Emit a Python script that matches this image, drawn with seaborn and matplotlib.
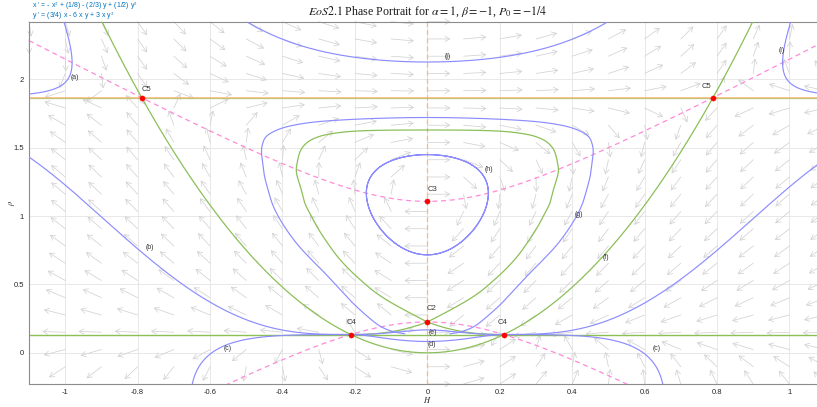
import math
import numpy as np
import pandas as pd
import matplotlib
matplotlib.use("Agg")
import matplotlib.pyplot as plt
import seaborn as sns

# ------------------------------------------------------------------ data
# x' = c0*x^2 + c1 + c2*y + c3*y^2 ;  y' = x*(d0 + d1*y + d2*y^2)
x_coefs = [-1.0, 1/8, -2/3, 1/2]
y_coefs = [3/4, -6.0, 3.0]

H_lim = [-1.1, 1.1]
rho_lim = [-0.228, 2.422]
x_ticks = [-1, -0.8, -0.6, -0.4, -0.2, 0, 0.2, 0.4, 0.6, 0.8, 1]
y_ticks = [0, 0.5, 1, 1.5, 2]

# seed points of the blue trajectories
blue_seed_H = [-0.981, 0.981, 0.0, -0.906, 0.812, -0.649, 0.650, 0.0, 0.0, 0.0]
blue_seed_rho = [2.12, 2.12, 2.127, 1.009, 0.777, -0.227, -0.227, 0.083, 0.168, 1.45]
# extra green trajectory (lower arc between the C4 nodes)
green_seed_H = [0.0]
green_seed_rho = [0.0]

# curves (left halves, mirrored about H = 0)
green_loop_H = [0.0, -0.1312, -0.2141, -0.2693, -0.3025, -0.3301, -0.3494, -0.3591,
                -0.3613, -0.3494, -0.3384, -0.3218, -0.3025, -0.2776, -0.2472, -0.2141,
                -0.1782, -0.1450, -0.1119, -0.0760, -0.0373, 0.0]
green_loop_rho = [1.6298, 1.6277, 1.6189, 1.6006, 1.5786, 1.5420, 1.4836, 1.3957,
                  1.3153, 1.2056, 1.0958, 1.0080, 0.9129, 0.8105, 0.7008, 0.6057,
                  0.5179, 0.4448, 0.3862, 0.3314, 0.2765, 0.2253]
blue_outer_H = [0.0, -0.1036, -0.2141, -0.3108, -0.3798, -0.4213, -0.4461, -0.4558,
                -0.4580, -0.4558, -0.4503, -0.4398, -0.4268, -0.4075, -0.3826,
                -0.3550, -0.3218, -0.2859, -0.2472, -0.2086, -0.1699, -0.1312,
                -0.0953, -0.0622]
blue_outer_rho = [1.7213, 1.7176, 1.7067, 1.6884, 1.6591, 1.6225, 1.5786, 1.5201,
                  1.4689, 1.4104, 1.3006, 1.1909, 1.0812, 0.9788, 0.8764,
                  0.7813, 0.6862, 0.5911, 0.4814, 0.3716, 0.2765, 0.1961,
                  0.1558, 0.1390]

curve_labels = ['(a)', '(b)', '(c)', '(c)', '(d)', '(e)', '(f)', '(g)', '(h)', '(j)', '(i)']
label_H = [-0.972, -0.767, -0.551, 0.632, 0.013, 0.016, 0.493, 0.418, 0.169, 0.055, 0.978]
label_rho = [2.015, 0.770, 0.029, 0.029, 0.064, 0.151, 0.700, 1.009, 1.338, 2.166, 2.215]

title = r"$EoS2.1$ Phase Portrait for $\alpha = 1$, $\beta = -1$, $P_0 = -1/4$"
eq_line1 = r"x ' = - x$^2$ + (1/8) - (2/3) y + (1/2) y$^2$"
eq_line2 = r"y ' = (3/4) x - 6 x y + 3 x y$^2$"

# ------------------------------------------------------------------ style
sns.set_theme(style="white")
plt.rcParams['font.family'] = ['Liberation Sans', 'DejaVu Sans']
plt.rcParams['mathtext.fontset'] = 'stix'
plt.rcParams['axes.unicode_minus'] = False

BLUE = '#8c8cff'
GREEN = '#8cbf58'
PINK = '#ff8ad8'
ORANGE = '#ffb676'
ARROW = '#d2d2d2'

W, Hh = 817, 407
fig = plt.figure(figsize=(W / 100, Hh / 100), dpi=100)
ax_left, ax_right_px, ax_top_px, ax_bot_px = 29.0, 825.7, 21.7, 384.0
ax = fig.add_axes([ax_left / W, (Hh - ax_bot_px) / Hh,
                   (ax_right_px - ax_left) / W, (ax_bot_px - ax_top_px) / Hh])
ax.set_xlim(H_lim)
ax.set_ylim(rho_lim)
SX = (ax_right_px - ax_left) / (H_lim[1] - H_lim[0])
SY = (ax_bot_px - ax_top_px) / (rho_lim[1] - rho_lim[0])

c0, c1, c2, c3 = x_coefs
d0, d1, d2 = y_coefs


def field(x, y):
    return c0 * x * x + c1 + c2 * y + c3 * y * y, x * (d0 + d1 * y + d2 * y * y)


def jac(x, y):
    return np.array([[2 * c0 * x, c2 + 2 * c3 * y],
                     [d0 + d1 * y + d2 * y * y, x * (d1 + 2 * d2 * y)]])


# equilibria
ys_inv = sorted(np.roots([d2, d1, d0]).real)           # invariant lines y' = 0
ys_axis = sorted(np.roots([c3, c2, c1]).real)          # on H = 0
eqs = []
eqs.append(('C2', 0.0, ys_axis[0]))
eqs.append(('C3', 0.0, ys_axis[1]))
for nm, yv in (('C4', ys_inv[0]), ('C5', ys_inv[1])):
    xv = math.sqrt(-(c1 + c2 * yv + c3 * yv * yv) / c0)
    eqs.append((nm, -xv, yv))
    eqs.append((nm, xv, yv))


def vel(x, y):
    fx, fy = field(x, y)
    px, py = fx * SX, fy * SY
    n = math.hypot(px, py)
    if n < 1e-14:
        return 0.0, 0.0
    return px / n / SX, py / n / SY


def trace(x0, y0, sgn, step=0.7, max_steps=9000):
    xs, ys = [x0], [y0]
    x, y = x0, y0
    s = 0.0
    h = sgn * step
    for _ in range(max_steps):
        k1 = vel(x, y)
        k2 = vel(x + 0.5 * h * k1[0], y + 0.5 * h * k1[1])
        k3 = vel(x + 0.5 * h * k2[0], y + 0.5 * h * k2[1])
        k4 = vel(x + h * k3[0], y + h * k3[1])
        x += h * (k1[0] + 2 * k2[0] + 2 * k3[0] + k4[0]) / 6
        y += h * (k1[1] + 2 * k2[1] + 2 * k3[1] + k4[1]) / 6
        s += step
        xs.append(x)
        ys.append(y)
        if x < H_lim[0] - 0.05 or x > H_lim[1] + 0.05 or y < rho_lim[0] - 0.05 or y > rho_lim[1] + 0.05:
            break
        if s > 6:
            if any(math.hypot((x - ex) * SX, (y - ey) * SY) < 1.0 for _, ex, ey in eqs):
                break
        if s > 40 and math.hypot((x - x0) * SX, (y - y0) * SY) < step:
            break
    return xs, ys


def full_curve(x0, y0):
    xb, yb = trace(x0, y0, -1)
    xf, yf = trace(x0, y0, +1)
    return xb[::-1] + xf[1:], yb[::-1] + yf[1:]


def draw(xs, ys, color, lw=0.85, z=3):
    df = pd.DataFrame({'H': list(xs), 'rho': list(ys)})
    sns.lineplot(data=df, x='H', y='rho', sort=False, estimator=None,
                 color=color, lw=lw, ax=ax, zorder=z)


def smooth_half(hs, rs, n=12):
    """Catmull-Rom through the read points (in pixel metric); horizontal tangent at H=0 top."""
    P = np.column_stack([np.array(hs) * SX, np.array(rs) * SY])
    first = np.array([-P[1, 0], P[1, 1]])
    last = 2 * P[-1] - P[-2]
    Q = np.vstack([first, P, last])
    out = []
    for i in range(1, len(Q) - 2):
        p0, p1, p2, p3 = Q[i - 1], Q[i], Q[i + 1], Q[i + 2]
        for t in np.linspace(0, 1, n, endpoint=False):
            t2, t3 = t * t, t * t * t
            out.append(0.5 * ((2 * p1) + (-p0 + p2) * t + (2 * p0 - 5 * p1 + 4 * p2 - p3) * t2
                              + (-p0 + 3 * p1 - 3 * p2 + p3) * t3))
    out.append(P[-1])
    out = np.array(out)
    return out[:, 0] / SX, out[:, 1] / SY


# ------------------------------------------------------------------ grid + quiver field
ax.set_xticks(x_ticks)
ax.set_yticks(y_ticks)
ax.set_xticklabels(['%g' % t for t in x_ticks])
ax.set_yticklabels(['%g' % t for t in y_ticks])
ax.grid(True, color='#e4e4e4', lw=0.6)
ax.set_axisbelow(True)

gx = np.linspace(H_lim[0], H_lim[1], 23)
gy = np.linspace(rho_lim[0], rho_lim[1], 22)
LH, LV = 23.0, 15.0   # arrow pixel lengths (horizontal / vertical)
for xv in gx:
    for yv in gy:
        fx, fy = field(xv, yv)
        px, py = fx * SX, fy * SY
        n = math.hypot(px, py)
        if n < 1e-12:
            continue
        ct, st = px / n, py / n
        L = 1.0 / math.hypot(ct / LH, st / LV)
        ax.annotate('', xy=(xv + L * ct / SX, yv + L * st / SY), xytext=(xv, yv),
                    xycoords='data', textcoords='data', annotation_clip=True,
                    arrowprops=dict(arrowstyle='->,head_length=0.28,head_width=0.16',
                                    color=ARROW, lw=0.55, shrinkA=0, shrinkB=0),
                    zorder=1)

# ------------------------------------------------------------------ nullclines
ax.axvline(0.0, color=ORANGE, lw=0.9, ls=(0, (4, 2.5)), zorder=2)
xx = np.linspace(H_lim[0], H_lim[1], 600)
disc = (c2 / (2 * c3)) ** 2 - (c1 + c0 * xx * xx) / c3
for sgn in (+1, -1):
    yy = -c2 / (2 * c3) + sgn * np.sqrt(disc)
    ax.plot(xx, yy, color=PINK, lw=0.9, ls=(0, (4, 3)), zorder=2)
ax.axhline(ys_inv[1], color=ORANGE, lw=1.1, zorder=2)
ax.axhline(ys_inv[1], color=GREEN, lw=0.9, alpha=0.5, zorder=2.5)
ax.axhline(ys_inv[0], color=GREEN, lw=1.0, zorder=2.5)

# ------------------------------------------------------------------ green separatrices
eps = 1e-3
for nm, ex, ey in eqs:
    J = jac(ex, ey)
    w, V = np.linalg.eig(J)
    if np.iscomplexobj(w) and np.any(np.abs(w.imag) > 1e-9):
        continue
    w = w.real
    V = V.real
    if not (w.min() < 0 < w.max()):
        continue
    for k in range(2):
        v = V[:, k]
        if abs(v[1]) < 1e-6:      # along invariant horizontal line, drawn already
            continue
        sgn = 1 if w[k] > 0 else -1
        for br in (+1, -1):
            px0, py0 = ex + br * eps * v[0], ey + br * eps * v[1]
            if nm == 'C2' and py0 > ey:     # upper loop
                continue
            xs, ys = trace(px0, py0, sgn)
            draw([ex] + xs, [ey] + ys, GREEN, lw=0.9, z=3)
for sx_, sy_ in zip(green_seed_H, green_seed_rho):
    xs, ys = full_curve(sx_, sy_)
    draw(xs, ys, GREEN, lw=0.9, z=3)
gh, gr = smooth_half(green_loop_H, green_loop_rho)
draw(gh, gr, GREEN, lw=0.9, z=3)
draw(-gh, gr, GREEN, lw=0.9, z=3)

# ------------------------------------------------------------------ blue trajectories
for sx_, sy_ in zip(blue_seed_H, blue_seed_rho):
    xs, ys = full_curve(sx_, sy_)
    draw(xs, ys, BLUE, lw=0.85, z=4)
bh, br_ = smooth_half(blue_outer_H, blue_outer_rho)
draw(bh, br_, BLUE, lw=0.85, z=4)
draw(-bh, br_, BLUE, lw=0.85, z=4)

for t, lx, ly in zip(curve_labels, label_H, label_rho):
    ax.text(lx, ly, t, fontsize=5, color='#333333', ha='center', va='center', zorder=6)

# ------------------------------------------------------------------ equilibria
eq_df = pd.DataFrame({'H': [e[1] for e in eqs], 'rho': [e[2] for e in eqs]})
sns.scatterplot(data=eq_df, x='H', y='rho', color='#ff0000', s=14, edgecolor='#ff0000',
                linewidth=0.3, ax=ax, zorder=7, legend=False)
offsets = {('C2', 0): (4, 10), ('C3', 0): (5, 8), ('C4', -1): (1, 9), ('C4', 1): (-1, 9),
           ('C5', -1): (5, 5), ('C5', 1): (-6, 8)}
for nm, ex, ey in eqs:
    key = (nm, 0 if ex == 0 else (1 if ex > 0 else -1))
    ox, oy = offsets[key]
    ax.annotate(nm, xy=(ex, ey), xytext=(ox, oy), textcoords='offset pixels',
                fontsize=5.5, color='#333333', ha='center', va='bottom', zorder=8)

# ------------------------------------------------------------------ axes dressing
for side in ('left', 'bottom', 'top'):
    ax.spines[side].set_color('#8c8c8c')
    ax.spines[side].set_linewidth(0.8)
ax.spines['right'].set_visible(False)
ax.tick_params(axis='both', direction='in', length=3, width=0.6, color='#8c8c8c',
               labelsize=5.5, labelcolor='#262626', pad=3.5)
ax.set_xlabel(r'$H$', fontsize=6, color='#262626')
ax.set_ylabel(r'$\rho$', fontsize=6, color='#262626')
ax.xaxis.set_label_coords(0.5, -(400 - ax_bot_px) / (ax_bot_px - ax_top_px))
ax.yaxis.set_label_coords(-(ax_left - 12) / (ax_right_px - ax_left), 0.5)
ax.xaxis.label.set_va('center')
ax.yaxis.label.set_va('center')
ax.set_title(title, fontsize=8.6, family='Liberation Serif', pad=5, color='#1a1a1a')

fig.text(32 / W, 1 - 6.5 / Hh, eq_line1, fontsize=5, color='#0072BD', ha='left', va='center')
fig.text(32 / W, 1 - 16.5 / Hh, eq_line2, fontsize=5, color='#0072BD', ha='left', va='center')

fig.savefig('out.png', dpi=100, facecolor='white')
